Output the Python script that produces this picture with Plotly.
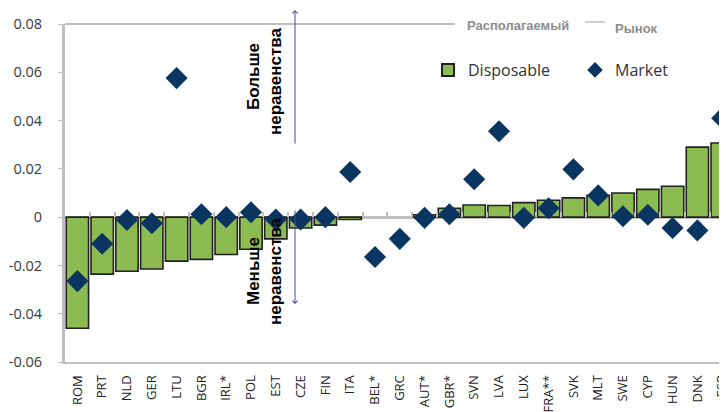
import plotly.graph_objects as go

countries = ["ROM", "PRT", "NLD", "GER", "LTU", "BGR", "IRL*", "POL", "EST", "CZE",
             "FIN", "ITA", "BEL*", "GRC", "AUT*", "GBR*", "SVN", "LVA", "LUX", "FRA**",
             "SVK", "MLT", "SWE", "CYP", "HUN", "DNK", "ESP"]
disposable = [-0.046, -0.0236, -0.0224, -0.0215, -0.0182, -0.0175, -0.0155, -0.0133, -0.009, -0.0045,
              -0.0033, -0.001, None, None, 0.001, 0.0037, 0.005, 0.0048, 0.006, 0.007,
              0.008, 0.009, 0.010, 0.0115, 0.0128, 0.029, 0.0307]
market = [-0.0265, -0.011, -0.0012, -0.0025, 0.0576, 0.0012, 0.0, 0.002, -0.001, -0.001,
          0.0, 0.0187, -0.0165, -0.009, -0.0003, 0.0012, 0.0157, 0.0356, -0.0003, 0.0037,
          0.0198, 0.009, 0.0004, 0.001, -0.0045, -0.0055, 0.041]
y_ticks = [-0.06, -0.04, -0.02, 0, 0.02, 0.04, 0.06, 0.08]
y_ticktext = ["-0.06", "-0.04", "-0.02", "0", "0.02", "0.04", "0.06", "0.08"]

# page offset of the figure (default body margin)
OFF = 8
W, H = 727, 412
L, R, T, B = 65 - OFF, 0, 24 - OFF, H - (362 - OFF)
PW, PH = W - L - R, H - T - B

def px(x):
    """page pixel x -> paper"""
    return (x - OFF - L) / PW

def py(y):
    """page pixel y -> paper"""
    return (H - B - (y - OFF)) / PH

idx = list(range(len(countries)))
xrange = [-0.5, -0.5 + PW / 24.8]

fig = go.Figure()
fig.add_trace(go.Bar(
    x=idx, y=disposable, name="Disposable", legend="legend",
    marker=dict(color="#8CBB51", line=dict(color="#222222", width=1.6)),
))
fig.add_trace(go.Scatter(
    x=idx, y=market, name="Market", mode="markers", legend="legend2",
    marker=dict(symbol="diamond", size=17, color="#0B3561"),
))
# helper trace for the zero-line tick axis
fig.add_trace(go.Scatter(x=[-0.5], y=[0], xaxis="x2", mode="markers",
                         marker=dict(opacity=0), showlegend=False, hoverinfo="skip"))

boundaries = [i + 0.5 for i in idx[:-1]]
leg_font = dict(family="Open Sans", size=16, color="#333333")

fig.update_layout(
    width=W, height=H,
    margin=dict(l=L, r=R, t=T, b=B, autoexpand=False),
    paper_bgcolor="white", plot_bgcolor="white",
    bargap=0.1,
    showlegend=True,
    legend=dict(orientation="h", x=px(428), y=py(70), xanchor="left", yanchor="middle",
                font=leg_font, bgcolor="rgba(0,0,0,0)", itemsizing="constant"),
    legend2=dict(orientation="h", x=px(575), y=py(70), xanchor="left", yanchor="middle",
                 font=leg_font, bgcolor="rgba(0,0,0,0)", itemsizing="constant"),
    xaxis=dict(range=xrange, tickmode="array", tickvals=idx, ticktext=countries,
               tickangle=-90, showline=True, linecolor="#BFBFBF", linewidth=2,
               ticks="", showgrid=False, zeroline=False, automargin=False,
               ticklabelstandoff=6,
               tickfont=dict(family="Open Sans", size=13, color="#222222")),
    xaxis2=dict(range=xrange, overlaying="x", anchor="free", position=0.06 / 0.14,
                side="bottom", tickmode="array", tickvals=boundaries, ticks="inside",
                ticklen=5, tickwidth=1.5, tickcolor="#BFBFBF", showticklabels=False,
                showline=False, showgrid=False, zeroline=False),
    yaxis=dict(range=[-0.06, 0.08], tickmode="array", tickvals=y_ticks, ticktext=y_ticktext,
               showline=True, linecolor="#BFBFBF", linewidth=3, ticks="outside",
               ticklen=4, tickcolor="#BFBFBF", showgrid=False,
               zeroline=True, zerolinecolor="#BFBFBF", zerolinewidth=3,
               automargin=False, ticklabelstandoff=13,
               tickfont=dict(family="Open Sans", size=14.5, color="#363A40")),
)

shapes = [
    dict(type="line", xref="paper", yref="paper", x0=px(65), x1=px(455), y0=py(24), y1=py(24),
         line=dict(color="#BFBFBF", width=2)),
    dict(type="line", xref="paper", yref="paper", x0=px(585), x1=px(605), y0=py(22), y1=py(22),
         line=dict(color="#BFBFBF", width=1.5)),
]
fig.update_layout(shapes=shapes)

labels = [
    ("Больше", 253, 77),
    ("неравенства", 275, 81),
    ("Меньше", 253, 271),
    ("неравенства", 275, 271),
]
for txt, lx, ly in labels:
    fig.add_annotation(xref="paper", yref="paper", x=px(lx), y=py(ly), text="<b>" + txt + "</b>",
                       textangle=-90, showarrow=False, align="center",
                       xanchor="center", yanchor="middle",
                       font=dict(family="Liberation Sans", size=17, color="#000000"))

fig.add_annotation(xref="paper", yref="paper", x=px(518), y=py(25), text="<b>Располагаемый</b>",
                   showarrow=False, xanchor="center", yanchor="middle",
                   font=dict(family="Liberation Sans", size=13, color="#8C8C8C"))
fig.add_annotation(xref="paper", yref="paper", x=px(636), y=py(29), text="<b>Рынок</b>",
                   showarrow=False, xanchor="center", yanchor="middle",
                   font=dict(family="Liberation Sans", size=13, color="#8C8C8C"))

# arrows
fig.add_annotation(xref="paper", yref="paper", x=px(295), y=py(10), ax=0, ay=135,
                   text="", showarrow=True, arrowhead=4, arrowsize=1, arrowwidth=1,
                   arrowcolor="#4848B0")
fig.add_annotation(xref="paper", yref="paper", x=px(295), y=py(304), ax=0, ay=-95,
                   text="", showarrow=True, arrowhead=4, arrowsize=1, arrowwidth=1,
                   arrowcolor="#4848B0")

fig.write_html("out.html")
